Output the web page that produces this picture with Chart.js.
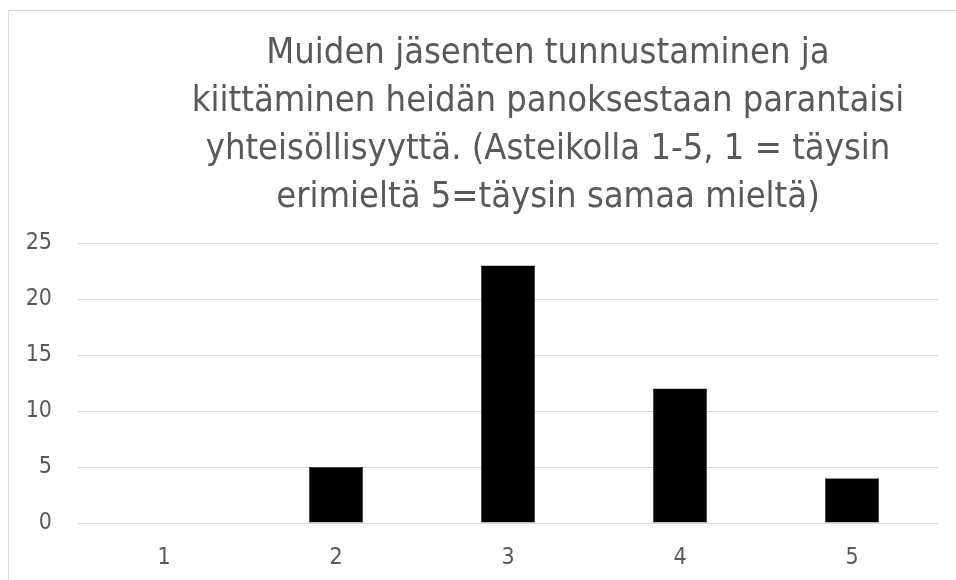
<!DOCTYPE html>
<html>
<head>
<meta charset="utf-8">
<script src="https://cdn.jsdelivr.net/npm/chart.js@4"></script>
<style>
  html, body { margin: 0; padding: 0; background: #fff; }
  #wrap { width: 956px; height: 580px; position: relative; }
</style>
</head>
<body>
<div id="wrap"><canvas id="chart"></canvas></div>
<script>
// data
const categories = ['1', '2', '3', '4', '5'];
const values = [0, 5, 23, 12, 4];
const titleLines = [
  'Muiden jäsenten tunnustaminen ja',
  'kiittäminen heidän panoksestaan parantaisi',
  'yhteisöllisyyttä. (Asteikolla 1-5, 1 = täysin',
  'erimieltä 5=täysin samaa mieltä)'
];
const yTicks = [0, 5, 10, 15, 20, 25];

const FONT = "'DejaVu Sans Condensed', 'DejaVu Sans', sans-serif";
const TEXT = '#595959';

// kehys + otsikko
const frameTitle = {
  id: 'frameTitle',
  beforeDraw(chart) {
    const ctx = chart.ctx;
    ctx.save();
    ctx.strokeStyle = '#d9d9d9';
    ctx.lineWidth = 1;
    ctx.strokeRect(8.5, 10.5, 1000, 1000);
    ctx.fillStyle = TEXT;
    ctx.font = '36px ' + FONT;
    ctx.textAlign = 'center';
    ctx.textBaseline = 'alphabetic';
    titleLines.forEach((t, i) => ctx.fillText(t, 548, 63 + i * 48));
    ctx.restore();
  }
};

new Chart(document.getElementById('chart'), {
  type: 'bar',
  data: {
    labels: categories,
    datasets: [{
      data: values,
      backgroundColor: '#000000',
      borderColor: '#262626',
      borderWidth: 0.5,
      barPercentage: 0.314,
      categoryPercentage: 1
    }]
  },
  options: {
    responsive: true,
    maintainAspectRatio: false,
    animation: false,
    layout: { padding: { top: 243, right: 18, left: 0, bottom: 0 } },
    plugins: {
      legend: { display: false },
      tooltip: { enabled: false }
    },
    scales: {
      x: {
        grid: { display: false, drawTicks: false },
        border: { display: false },
        ticks: { color: TEXT, font: { family: FONT, size: 23 }, padding: 21 },
        afterFit(s) { s.height = 57; }
      },
      y: {
        min: 0,
        max: 25,
        afterBuildTicks(s) { s.ticks = yTicks.map(v => ({ value: v })); },
        grid: { color: '#d9d9d9', lineWidth: 1, drawTicks: false },
        border: { display: false },
        ticks: { color: TEXT, font: { family: FONT, size: 23 }, padding: 26 },
        afterFit(s) { s.width = 78; }
      }
    }
  },
  plugins: [frameTitle]
});
</script>
</body>
</html>
